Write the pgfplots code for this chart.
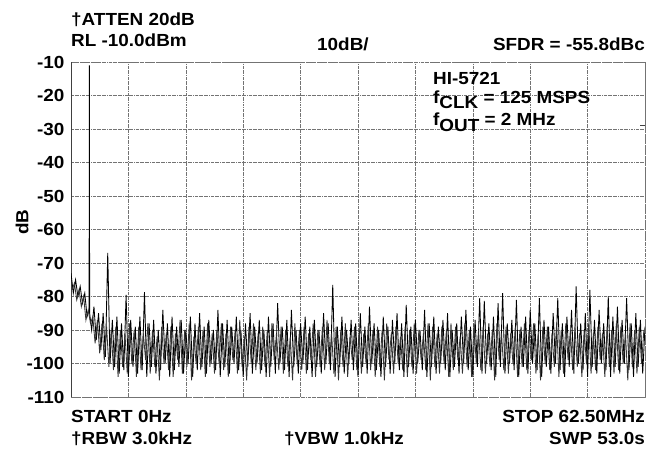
\documentclass[border=0pt]{standalone}
\usepackage{fontspec}
\setmainfont{Liberation Sans}[FakeStretch=1.08]
\usepackage{pgfplots}
\pgfplotsset{compat=1.18}

\newcommand{\lbl}{\fontsize{17.5bp}{20bp}\selectfont\bfseries}

\begin{document}
\begin{tikzpicture}
\begin{axis}[
    at={(71bp,-397bp)}, anchor=south west,
    width=574bp, height=335bp, scale only axis,
    xmin=0, xmax=62.5,
    ymin=-110, ymax=-10,
    xtick={0,6.25,...,62.5},
    xticklabels={},
    ytick={-110,-100,...,-10},
    major tick length=0pt,
    tick label style={font=\lbl},
    /pgf/number format/assume math mode=true,
    yticklabel style={xshift=-3bp},
    grid=major,
    grid style={densely dashdotted, black!55, line width=0.5pt},
    axis line style={densely dashdotted, black!55, line width=0.5pt},
    clip=true,
]
\draw[black!75, line width=0.6pt] (axis cs:0,-110) -- (axis cs:0,-10);
\draw[black!75, line width=0.6pt] (axis cs:62.0,-29) -- (axis cs:62.5,-29);

% spectrum trace, samples on the 0.25 MHz grid (x in MHz, y in dB)
\addplot[black, line width=0.85pt] coordinates {
(0,-73)(0.25,-79)(0.5,-75)(0.75,-80)(1,-77)(1.25,-82)(1.5,-79)(1.75,-86)(1.97,-84)(2,-11)(2.03,-85)(2.25,-90)
(2.5,-83)(2.75,-93)(3,-85)(3.25,-96)(3.5,-85)(3.75,-98)(4,-67)(4.25,-100)(4.5,-87)(4.75,-101)
(5,-86)(5.25,-103)(5.5,-88)(5.75,-102)(6,-79.5)(6.25,-104)(6.5,-87)(6.75,-101)(7,-89)(7.25,-103)
(7.5,-86)(7.75,-102)(8,-78.7)(8.25,-104)(8.5,-88)(8.75,-101)(9,-87)(9.25,-103)(9.5,-90)(9.75,-102)
(10,-84)(10.25,-100)(10.5,-88)(10.75,-104)(11,-86)(11.25,-102)(11.5,-89)(11.75,-101)(12,-87)(12.25,-103)
(12.5,-90)(12.75,-100)(13,-86)(13.25,-104)(13.5,-88)(13.75,-102)(14,-85)(14.25,-101)(14.5,-89)(14.75,-103)
(15,-87)(15.25,-100)(15.5,-90)(15.75,-102)(16,-84)(16.25,-104)(16.5,-88)(16.75,-101)(17,-87)(17.25,-103)
(17.5,-89)(17.75,-100)(18,-86)(18.25,-102)(18.5,-90)(18.75,-104)(19,-88)(19.25,-101)(19.5,-85)(19.75,-103)
(20,-89)(20.25,-100)(20.5,-87)(20.75,-102)(21,-90)(21.25,-104)(21.5,-86)(21.75,-101)(22,-88)(22.25,-103)
(22.5,-82)(22.75,-100)(23,-89)(23.25,-102)(23.5,-87)(23.75,-104)(24,-84)(24.25,-101)(24.5,-90)(24.75,-103)
(25,-88)(25.25,-100)(25.5,-86)(25.75,-102)(26,-89)(26.25,-104)(26.5,-87)(26.75,-101)(27,-90)(27.25,-103)
(27.5,-85)(27.75,-100)(28,-88)(28.25,-102)(28.5,-76.5)(28.75,-104)(29,-89)(29.25,-101)(29.5,-86)(29.75,-103)
(30,-90)(30.25,-100)(30.5,-87)(30.75,-102)(31,-88)(31.25,-104)(31.5,-85)(31.75,-101)(32,-89)(32.25,-103)
(32.5,-83)(32.75,-100)(33,-88)(33.25,-102)(33.5,-90)(33.75,-104)(34,-86)(34.25,-101)(34.5,-89)(34.75,-103)
(35,-87)(35.25,-100)(35.5,-85)(35.75,-102)(36,-88)(36.25,-104)(36.5,-82.5)(36.75,-101)(37,-89)(37.25,-103)
(37.5,-87)(37.75,-100)(38,-90)(38.25,-102)(38.5,-84)(38.75,-104)(39,-88)(39.25,-101)(39.5,-86)(39.75,-103)
(40,-89)(40.25,-100)(40.5,-87)(40.75,-102)(41,-85)(41.25,-104)(41.5,-90)(41.75,-101)(42,-88)(42.25,-103)
(42.5,-86)(42.75,-100)(43,-84)(43.25,-102)(43.5,-89)(43.75,-104)(44,-87)(44.25,-101)(44.5,-80.5)(44.75,-103)
(45,-81.3)(45.25,-100)(45.5,-88)(45.75,-102)(46,-86)(46.25,-104)(46.5,-82)(46.75,-101)(47,-79)(47.25,-103)
(47.5,-88)(47.75,-100)(48,-87)(48.25,-102)(48.5,-81)(48.75,-104)(49,-89)(49.25,-101)(49.5,-86)(49.75,-103)
(50,-84)(50.25,-100)(50.5,-88)(50.75,-102)(51,-80.5)(51.25,-104)(51.5,-87)(51.75,-101)(52,-89)(52.25,-103)
(52.5,-85)(52.75,-100)(53,-80.5)(53.25,-102)(53.5,-88)(53.75,-104)(54,-86)(54.25,-101)(54.5,-84)(54.75,-103)
(55,-77)(55.25,-100)(55.5,-88)(55.75,-102)(56,-85)(56.25,-104)(56.5,-78)(56.75,-101)(57,-87)(57.25,-103)
(57.5,-84)(57.75,-100)(58,-88)(58.25,-102)(58.5,-80)(58.75,-104)(59,-86)(59.25,-101)(59.5,-83)(59.75,-103)
(60,-87)(60.25,-100)(60.5,-80.5)(60.75,-102)(61,-88)(61.25,-104)(61.5,-85)(61.75,-101)(62,-87)(62.25,-103)
(62.5,-89)
};

% interleaved samples between them (x in MHz, y in dB)
\addplot[black!80, line width=0.85pt] coordinates {
(0.125,-78)(0.375,-76)(0.625,-81)(0.875,-78)(1.125,-83)(1.375,-80)(1.625,-87)(1.875,-84)
(2.125,-88)(2.375,-86)(2.625,-94)(2.875,-87)(3.125,-97)(3.375,-88)(3.625,-99)(3.875,-89)
(4.125,-101)(4.375,-90)(4.625,-102)(4.875,-89)(5.125,-104)(5.375,-90)
(5.625,-101)(5.875,-91)(6.125,-103)(6.375,-88)(6.625,-100)(6.875,-90)(7.125,-104)(7.375,-89)
(7.625,-102)(7.875,-91)(8.125,-99)(8.375,-88)(8.625,-103)(8.875,-90)(9.125,-101)(9.375,-92)
(9.625,-105)(9.875,-89)(10.125,-100)(10.375,-91)(10.625,-102)(10.875,-89)(11.125,-104)(11.375,-91)
(11.625,-99)(11.875,-87)(12.125,-103)(12.375,-90)(12.625,-101)(12.875,-88)(13.125,-105)(13.375,-92)
(13.625,-100)(13.875,-89)(14.125,-102)(14.375,-90)(14.625,-104)(14.875,-88)(15.125,-101)(15.375,-91)
(15.625,-103)(15.875,-90)(16.125,-100)(16.375,-88)(16.625,-102)(16.875,-91)(17.125,-104)(17.375,-89)
(17.625,-99)(17.875,-90)(18.125,-103)(18.375,-87)(18.625,-101)(18.875,-92)(19.125,-105)(19.375,-89)
(19.625,-100)(19.875,-88)(20.125,-102)(20.375,-91)(20.625,-103)(20.875,-89)(21.125,-101)(21.375,-90)
(21.625,-104)(21.875,-88)(22.125,-99)(22.375,-91)(22.625,-102)(22.875,-89)(23.125,-103)(23.375,-90)
(23.625,-101)(23.875,-92)(24.125,-105)(24.375,-88)(24.625,-100)(24.875,-90)(25.125,-102)(25.375,-89)
(25.625,-103)(25.875,-91)(26.125,-99)(26.375,-88)(26.625,-104)(26.875,-90)(27.125,-101)(27.375,-89)
(27.625,-102)(27.875,-87)(28.125,-100)(28.375,-91)(28.625,-103)(28.875,-89)(29.125,-105)(29.375,-90)
(29.625,-101)(29.875,-88)(30.125,-104)(30.375,-92)(30.625,-99)(30.875,-89)(31.125,-102)(31.375,-90)
(31.625,-103)(31.875,-91)(32.125,-100)(32.375,-88)(32.625,-102)(32.875,-90)(33.125,-104)(33.375,-89)
(33.625,-101)(33.875,-90)(34.125,-105)(34.375,-88)(34.625,-99)(34.875,-91)(35.125,-103)(35.375,-89)
(35.625,-100)(35.875,-92)(36.125,-102)(36.375,-89)(36.625,-104)(36.875,-90)(37.125,-101)(37.375,-88)
(37.625,-103)(37.875,-90)(38.125,-99)(38.375,-91)(38.625,-102)(38.875,-88)(39.125,-105)(39.375,-89)
(39.625,-101)(39.875,-91)(40.125,-103)(40.375,-89)(40.625,-100)(40.875,-90)(41.125,-104)(41.375,-88)
(41.625,-102)(41.875,-89)(42.125,-99)(42.375,-92)(42.625,-103)(42.875,-88)(43.125,-101)(43.375,-90)
(43.625,-104)(43.875,-88)(44.125,-100)(44.375,-90)(44.625,-102)(44.875,-89)(45.125,-103)(45.375,-91)
(45.625,-101)(45.875,-90)(46.125,-105)(46.375,-88)(46.625,-99)(46.875,-91)(47.125,-102)(47.375,-89)
(47.625,-103)(47.875,-91)(48.125,-100)(48.375,-89)(48.625,-104)(48.875,-90)(49.125,-101)(49.375,-88)
(49.625,-102)(49.875,-90)(50.125,-99)(50.375,-88)(50.625,-103)(50.875,-91)(51.125,-105)(51.375,-89)
(51.625,-100)(51.875,-89)(52.125,-102)(52.375,-91)(52.625,-101)(52.875,-88)(53.125,-104)(53.375,-90)
(53.625,-103)(53.875,-88)(54.125,-99)(54.375,-90)(54.625,-102)(54.875,-89)(55.125,-101)(55.375,-91)
(55.625,-104)(55.875,-90)(56.125,-100)(56.375,-88)(56.625,-103)(56.875,-91)(57.125,-102)(57.375,-89)
(57.625,-99)(57.875,-91)(58.125,-104)(58.375,-89)(58.625,-101)(58.875,-90)(59.125,-103)(59.375,-88)
(59.625,-102)(59.875,-89)(60.125,-100)(60.375,-91)(60.625,-105)(60.875,-88)(61.125,-101)(61.375,-90)
(61.625,-103)(61.875,-89)(62.125,-100)(62.375,-90)
};
\end{axis}

\begin{scope}[font=\lbl]
\node[anchor=base west, inner sep=0pt] at (71bp,-25bp) {†ATTEN 20dB};
\node[anchor=base west, inner sep=0pt] at (71bp,-46bp) {RL -10.0dBm};
\node[anchor=base west, inner sep=0pt] at (317bp,-50bp) {10dB/};
\node[anchor=base east, inner sep=0pt] at (645bp,-50bp) {SFDR = -55.8dBc};
\node[anchor=base west, inner sep=0pt] at (71bp,-422bp) {START 0Hz};
\node[anchor=base east, inner sep=0pt] at (645bp,-422bp) {STOP 62.50MHz};
\node[anchor=base west, inner sep=0pt] at (71bp,-444bp) {†RBW 3.0kHz};
\node[anchor=base west, inner sep=0pt] at (284bp,-444bp) {†VBW 1.0kHz};
\node[anchor=base east, inner sep=0pt] at (645bp,-444bp) {SWP 53.0s};
\node[rotate=90, inner sep=0pt] at (22bp,-222bp) {dB};
\node[anchor=base west, inner sep=0pt] at (433bp,-84bp) {HI-5721};
\node[anchor=base west, inner sep=0pt] at (433bp,-103bp) {f\raisebox{-5bp}{CLK} = 125 MSPS};
\node[anchor=base west, inner sep=0pt] at (433bp,-125bp) {f\raisebox{-6bp}{OUT} = 2 MHz};
\end{scope}

\pgfresetboundingbox
\path[use as bounding box] (0,0) rectangle (664bp,-452bp);
\end{tikzpicture}
\end{document}
